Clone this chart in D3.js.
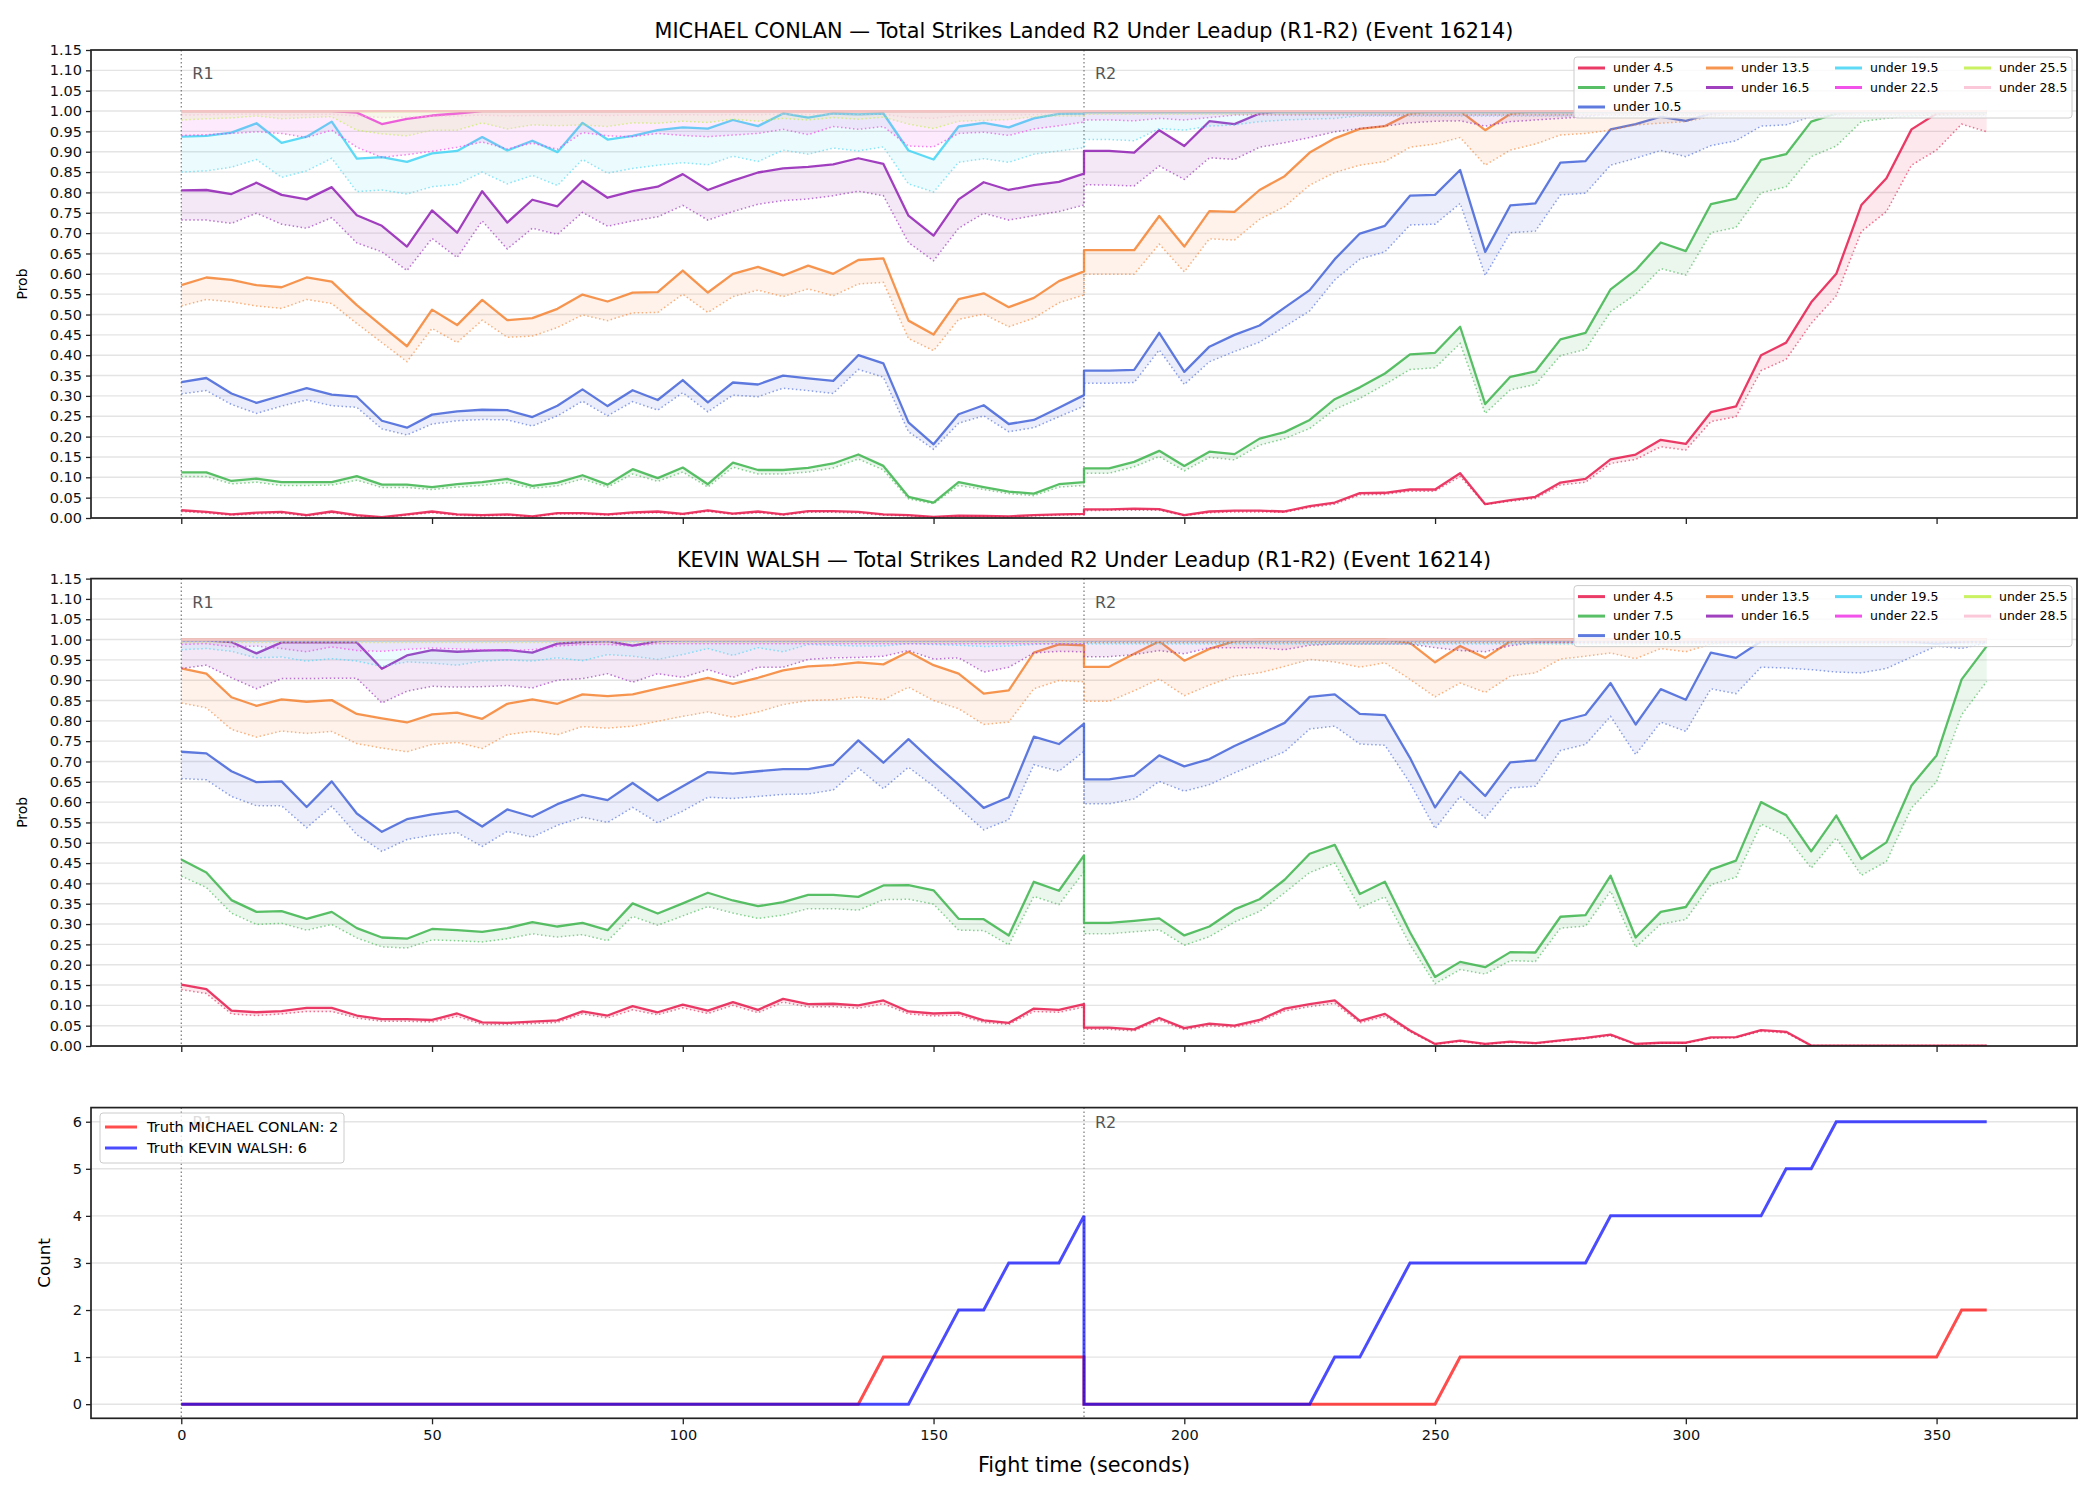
<!DOCTYPE html>
<html>
<head>
<meta charset="utf-8">
<script src="https://cdn.jsdelivr.net/npm/d3@7/dist/d3.min.js"></script>
<style>
    body { margin: 0; background: #fff; }
    svg { font-family: 'DejaVu Sans', sans-serif; }
</style>
</head>
<body>
<svg id="chart" width="2100" height="1500"></svg>
<script>
// Fight time of every sample: R1 then R2 (180 appears twice, once per round)
var fightTime = [0,5,10,15,20,25,30,35,40,45,50,55,60,65,70,75,80,85,90,95,100,105,110,115,120,125,130,135,140,145,150,155,160,165,170,175,180,
    180,185,190,195,200,205,210,215,220,225,230,235,240,245,250,255,260,265,270,275,280,285,290,295,300,305,310,315,320,325,330,335,340,345,350,355,360];

var lines = ['under 4.5', 'under 7.5', 'under 10.5', 'under 13.5', 'under 16.5', 'under 19.5', 'under 22.5', 'under 25.5', 'under 28.5'];
var lineColors = ['#e6194b', '#3cb44b', '#4363d8', '#f58231', '#911eb4', '#42d4f4', '#f032e6', '#bfef45', '#fabed4'];
var roundStarts = [0, 180];
var roundNames = ['R1', 'R2'];

// ---- MICHAEL CONLAN: solid (main) and dotted (alt) probabilities ----
var conlanMain45 = [.019,.015,.009,.013,.015,.007,.016,.007,.002,.009,.016,.009,.007,.009,.004,.012,.012,.009,.014,.016,.010,.019,.011,.016,.009,.017,.017,.015,.009,.007,.003,.006,.005,.004,.007,.009,.010,
    .021,.021,.023,.022,.007,.016,.018,.018,.016,.029,.038,.061,.062,.070,.070,.110,.034,.044,.052,.087,.096,.144,.156,.192,.182,.260,.274,.400,.431,.530,.600,.769,.835,.955,.994,.998,1];
var conlanAlt45 = [.016,.012,.007,.010,.012,.005,.013,.005,.001,.007,.013,.007,.005,.007,.003,.010,.010,.007,.011,.013,.008,.016,.009,.013,.007,.014,.014,.012,.007,.005,.002,.004,.004,.003,.005,.007,.008,
    .018,.019,.019,.019,.006,.013,.015,.015,.014,.026,.034,.057,.058,.066,.066,.102,.033,.041,.048,.081,.088,.134,.144,.175,.167,.237,.249,.362,.390,.478,.546,.704,.753,.867,.904,.968,.949];
var conlanMain75 = [.112,.112,.091,.097,.088,.088,.088,.103,.082,.082,.076,.083,.088,.096,.079,.087,.105,.082,.120,.098,.124,.083,.136,.118,.118,.123,.134,.156,.128,.052,.038,.088,.076,.065,.060,.083,.088,
    .122,.122,.138,.165,.128,.163,.157,.195,.211,.241,.292,.321,.355,.402,.406,.470,.280,.347,.360,.439,.455,.562,.609,.677,.656,.771,.785,.880,.894,.974,.994,1,1,1,1,1,1];
var conlanAlt75 = [.102,.102,.084,.088,.080,.080,.081,.093,.075,.075,.070,.076,.080,.087,.073,.079,.096,.076,.108,.090,.113,.076,.125,.108,.108,.113,.123,.145,.118,.047,.035,.080,.070,.060,.055,.076,.080,
    .110,.110,.126,.151,.116,.149,.143,.179,.195,.220,.267,.294,.328,.365,.369,.429,.257,.315,.328,.399,.414,.507,.550,.613,.597,.701,.714,.799,.814,.888,.914,.974,.982,.988,.990,.992,.992];
var conlanMain105 = [.334,.344,.306,.283,.301,.319,.303,.298,.239,.222,.254,.262,.266,.265,.248,.276,.316,.275,.314,.290,.339,.284,.333,.328,.350,.343,.337,.400,.380,.235,.181,.255,.277,.231,.241,.271,.302,
    .362,.362,.364,.455,.359,.421,.450,.473,.517,.560,.636,.699,.718,.792,.794,.855,.654,.768,.773,.873,.877,.955,.968,.986,.976,.994,1,1,1,1,1,1,1,1,1,1,1];
var conlanAlt105 = [.305,.313,.279,.257,.275,.290,.276,.272,.219,.204,.231,.239,.242,.241,.226,.251,.287,.251,.286,.265,.308,.261,.302,.298,.319,.313,.306,.365,.346,.212,.169,.233,.251,.212,.222,.249,.275,
    .331,.331,.333,.413,.328,.384,.409,.432,.470,.509,.585,.636,.654,.720,.722,.773,.596,.701,.705,.794,.798,.867,.884,.903,.888,.915,.927,.963,.966,.986,.992,.995,.995,.996,.996,.997,.997];
var conlanMain135 = [.572,.591,.585,.572,.567,.591,.581,.523,.472,.422,.512,.474,.536,.486,.491,.514,.549,.532,.554,.555,.608,.554,.600,.617,.596,.620,.600,.634,.638,.485,.451,.538,.552,.518,.541,.582,.606,
    .658,.658,.658,.742,.667,.754,.752,.806,.840,.898,.933,.956,.963,.994,1,1,.953,.993,1,1,1,1,1,1,1,1,1,1,1,1,1,1,1,1,1,1,1];
var conlanAlt135 = [.521,.537,.531,.521,.515,.537,.527,.478,.431,.384,.466,.431,.486,.444,.447,.468,.499,.485,.504,.505,.550,.505,.544,.560,.544,.563,.546,.575,.579,.441,.411,.488,.501,.470,.491,.529,.548,
    .599,.599,.599,.673,.605,.686,.683,.734,.765,.818,.849,.867,.876,.911,.919,.935,.867,.904,.919,.941,.945,.953,.966,.970,.974,.986,.995,.995,.995,.995,.995,.995,.995,.995,.995,.995,.995];
var conlanMain165 = [.805,.806,.796,.824,.794,.783,.813,.744,.718,.667,.756,.701,.803,.726,.782,.766,.828,.787,.803,.814,.845,.806,.829,.849,.859,.863,.869,.884,.870,.743,.694,.783,.825,.806,.818,.826,.846,
    .902,.902,.898,.953,.914,.975,.968,.994,1,1,1,1,1,1,1,1,1,1,1,1,1,1,1,1,1,1,1,1,1,1,1,1,1,1,1,1,1];
var conlanAlt165 = [.732,.732,.724,.749,.722,.712,.738,.676,.654,.608,.687,.640,.730,.661,.712,.697,.751,.717,.730,.740,.768,.732,.753,.771,.780,.784,.792,.803,.792,.677,.632,.712,.749,.732,.743,.753,.769,
    .819,.818,.816,.865,.832,.885,.881,.911,.922,.935,.949,.957,.963,.971,.975,.976,.963,.974,.978,.982,.986,.995,.995,.995,.995,.995,.995,.995,.995,.995,.995,.995,.995,.995,.995,.995,.995];
var conlanMain195 = [.937,.939,.947,.970,.922,.937,.974,.883,.887,.875,.896,.902,.936,.903,.927,.899,.971,.930,.939,.953,.960,.957,.978,.963,.994,.984,.994,.992,.994,.903,.881,.962,.971,.960,.982,.993,.994,
    .997,.997,.997,.997,.997,.997,.997,.997,.997,.997,.997,.997,.997,.997,.997,.997,.997,.997,.997,.997,.997,.997,.997,.997,.997,.997,.997,.997,.997,.997,.997,.997,.997,.997,.997,.997,.997];
var conlanAlt195 = [.850,.853,.862,.881,.837,.853,.884,.802,.806,.796,.814,.820,.850,.821,.842,.817,.881,.847,.859,.867,.873,.868,.889,.876,.904,.894,.909,.902,.912,.821,.801,.874,.883,.874,.894,.902,.910,
    .930,.930,.927,.957,.953,.963,.966,.974,.978,.980,.982,.988,.988,.988,.988,.988,.988,.988,.988,.988,.988,.988,.988,.988,.988,.988,.988,.988,.988,.988,.988,.988,.988,.988,.988,.988,.988];
var conlanMain225 = [1,1,1,1,1,1,1,.996,.968,.981,.989,.994,1,1,1,1,1,1,1,1,1,1,1,1,1,1,1,1,1,1,1,1,1,1,1,1,1,
    1,1,1,1,1,1,1,1,1,1,1,1,1,1,1,1,1,1,1,1,1,1,1,1,1,1,1,1,1,1,1,1,1,1,1,1,1];
var conlanAlt225 = [.940,.942,.945,.949,.945,.935,.953,.911,.886,.893,.901,.911,.924,.907,.921,.906,.947,.939,.937,.945,.940,.937,.941,.945,.955,.942,.962,.955,.962,.914,.912,.945,.948,.940,.956,.964,.973,
    .978,.978,.976,.982,.978,.984,.990,.990,.990,.990,.990,.990,.990,.990,.990,.990,.990,.990,.990,.990,.990,.990,.990,.990,.990,.990,.990,.990,.990,.990,.990,.990,.990,.990,.990,.990,.990];
var conlanMain255 = [1,1,1,1,1,1,1,1,1,1,1,1,1,1,1,1,1,1,1,1,1,1,1,1,1,1,1,1,1,1,1,1,1,1,1,1,1,
    1,1,1,1,1,1,1,1,1,1,1,1,1,1,1,1,1,1,1,1,1,1,1,1,1,1,1,1,1,1,1,1,1,1,1,1,1];
var conlanAlt255 = [.978,.981,.983,.988,.981,.984,.986,.953,.944,.939,.953,.953,.971,.956,.966,.964,.966,.962,.971,.970,.975,.972,.980,.975,.982,.978,.984,.980,.985,.968,.957,.975,.977,.979,.986,.988,.988,
    .992,.992,.992,.992,.992,.992,.992,.992,.992,.992,.992,.992,.992,.992,.992,.992,.992,.992,.992,.992,.992,.992,.992,.992,.992,.992,.992,.992,.992,.992,.992,.992,.992,.992,.992,.992,.992];
var conlanMain285 = [1,1,1,1,1,1,1,1,1,1,1,1,1,1,1,1,1,1,1,1,1,1,1,1,1,1,1,1,1,1,1,1,1,1,1,1,1,
    1,1,1,1,1,1,1,1,1,1,1,1,1,1,1,1,1,1,1,1,1,1,1,1,1,1,1,1,1,1,1,1,1,1,1,1,1];
var conlanAlt285 = [.990,.991,.992,.992,.990,.991,.992,.988,.984,.985,.987,.988,.990,.988,.989,.989,.990,.989,.990,.990,.991,.990,.991,.991,.992,.991,.992,.991,.992,.984,.982,.989,.990,.990,.991,.992,.992,
    .993,.993,.993,.993,.993,.993,.993,.993,.993,.993,.993,.993,.993,.993,.993,.993,.993,.993,.993,.993,.993,.993,.993,.993,.993,.993,.993,.993,.993,.993,.993,.993,.993,.993,.993,.993,.993];

// ---- KEVIN WALSH ----
var walshMain45 = [.151,.140,.087,.083,.086,.094,.094,.075,.066,.066,.064,.080,.058,.057,.060,.063,.085,.075,.098,.083,.102,.087,.108,.089,.116,.103,.104,.100,.112,.085,.080,.082,.063,.057,.092,.089,.103,
    .045,.045,.041,.069,.044,.055,.050,.064,.092,.103,.112,.062,.079,.038,.005,.013,.005,.011,.007,.014,.020,.028,.005,.008,.008,.021,.022,.039,.035,.001,.001,.001,.001,.001,.001,.001,.001];
var walshAlt45 = [.139,.129,.079,.075,.079,.085,.085,.069,.061,.061,.059,.073,.053,.053,.055,.058,.079,.069,.089,.077,.094,.080,.100,.082,.108,.096,.097,.093,.104,.079,.074,.076,.058,.053,.085,.083,.096,
    .041,.041,.037,.064,.040,.050,.046,.059,.086,.097,.105,.057,.073,.035,.004,.011,.004,.009,.006,.012,.018,.025,.004,.007,.007,.019,.020,.036,.032,.001,.001,.001,.001,.001,.001,.001,.001];
var walshMain75 = [.459,.427,.359,.330,.332,.313,.330,.290,.267,.264,.288,.285,.281,.290,.305,.294,.303,.285,.351,.326,.351,.377,.358,.344,.354,.372,.372,.367,.395,.396,.383,.313,.312,.272,.404,.382,.469,
    .303,.303,.308,.314,.272,.294,.336,.361,.409,.473,.495,.374,.404,.280,.170,.207,.194,.231,.230,.318,.322,.419,.267,.330,.342,.434,.456,.600,.568,.479,.567,.460,.501,.641,.715,.902,.984];
var walshAlt75 = [.418,.390,.327,.299,.302,.285,.299,.266,.244,.241,.261,.259,.256,.264,.276,.268,.274,.259,.319,.297,.320,.343,.327,.314,.322,.338,.338,.334,.360,.361,.349,.285,.284,.249,.368,.348,.428,
    .276,.276,.281,.286,.248,.269,.305,.331,.377,.427,.450,.340,.367,.249,.153,.188,.177,.210,.208,.290,.295,.381,.243,.300,.311,.397,.415,.546,.516,.438,.512,.420,.454,.586,.650,.815,.897];
var walshMain105 = [.724,.720,.676,.649,.651,.588,.651,.572,.527,.558,.570,.578,.540,.582,.564,.595,.618,.605,.647,.604,.639,.674,.670,.676,.681,.681,.692,.752,.697,.755,.698,.643,.586,.612,.761,.743,.793,
    .656,.656,.665,.715,.688,.706,.738,.766,.795,.859,.865,.817,.814,.709,.587,.675,.615,.698,.703,.799,.815,.893,.791,.878,.852,.968,.955,.996,1,1,1,1,1,.995,.990,.995,1];
var walshAlt105 = [.658,.655,.614,.591,.591,.537,.590,.520,.479,.508,.519,.525,.491,.528,.514,.543,.563,.550,.587,.549,.578,.612,.609,.614,.619,.620,.630,.684,.633,.686,.639,.586,.532,.557,.692,.676,.725,
    .596,.596,.608,.651,.627,.643,.672,.698,.724,.780,.787,.743,.740,.647,.535,.614,.561,.635,.639,.727,.742,.811,.717,.797,.774,.879,.867,.932,.930,.926,.920,.918,.929,.957,.984,.978,.992];
var walshMain135 = [.929,.916,.858,.837,.853,.847,.851,.817,.806,.796,.816,.820,.805,.842,.853,.842,.865,.861,.865,.879,.892,.906,.891,.906,.924,.934,.937,.944,.939,.970,.937,.916,.867,.875,.968,.988,.986,
    .933,.933,.965,.996,.948,.977,.996,1,1,1,1,1,1,.992,.944,.984,.955,.996,1,1,1,1,1,1,1,1,1,1,1,1,1,1,1,1,1,1,1];
var walshAlt135 = [.844,.832,.779,.760,.775,.769,.774,.744,.733,.724,.742,.747,.732,.766,.774,.766,.786,.782,.787,.799,.811,.822,.809,.822,.840,.850,.852,.859,.852,.883,.850,.830,.791,.797,.879,.899,.896,
    .848,.848,.874,.903,.862,.888,.910,.918,.934,.951,.945,.932,.943,.902,.859,.893,.870,.910,.918,.952,.959,.967,.953,.978,.970,.989,.995,.995,.995,.995,.995,.995,.995,.995,.995,.995,.995];
var walshMain165 = [.998,.998,.994,.966,.993,.993,.993,.993,.928,.961,.974,.970,.973,.974,.968,.990,.994,.996,.985,.996,.998,.998,.998,.998,.998,.998,.998,.998,.998,.998,.998,.998,.998,.998,.998,.998,.998,
    .998,.998,.998,.998,.998,.998,.998,.998,.998,.998,.998,.998,.998,.998,.998,.998,.998,.998,.998,.998,.998,.998,.998,.998,.998,.998,.998,.998,.998,.998,.998,.998,.998,.998,.998,.998,.998];
var walshAlt165 = [.929,.937,.906,.879,.904,.904,.905,.905,.844,.873,.885,.883,.884,.887,.881,.900,.904,.916,.895,.916,.907,.926,.907,.932,.932,.951,.955,.956,.959,.973,.952,.955,.920,.932,.967,.971,.970,
    .958,.958,.963,.973,.965,.980,.980,.980,.975,.986,.989,.989,.989,.989,.980,.973,.970,.985,.993,.993,.993,.993,.993,.993,.993,.993,.993,.993,.993,.993,.993,.993,.993,.993,.993,.993,.993];
var walshMain195 = [.998,.998,.998,.998,.998,.998,.998,.998,.998,.998,.998,.998,.998,.998,.998,.998,.998,.998,.998,.998,.998,.998,.998,.998,.998,.998,.998,.998,.998,.998,.998,.998,.998,.998,.998,.998,.998,
    .998,.998,.998,.998,.998,.998,.998,.998,.998,.998,.998,.998,.998,.998,.998,.998,.998,.998,.998,.998,.998,.998,.998,.998,.998,.998,.998,.998,.998,.998,.998,.998,.998,.998,.998,.998,.998];
var walshAlt195 = [.975,.978,.971,.955,.957,.947,.953,.947,.934,.945,.942,.937,.947,.950,.947,.955,.948,.963,.959,.951,.963,.978,.961,.980,.970,.988,.986,.984,.984,.990,.988,.986,.983,.984,.988,.990,.990,
    .989,.989,.989,.989,.989,.989,.989,.989,.989,.989,.989,.989,.989,.989,.989,.989,.989,.989,.989,.989,.989,.989,.989,.989,.989,.989,.989,.989,.989,.989,.989,.989,.989,.989,.989,.989,.989];
var walshMain225 = [1,1,1,1,1,1,1,1,1,1,1,1,1,1,1,1,1,1,1,1,1,1,1,1,1,1,1,1,1,1,1,1,1,1,1,1,1,
    1,1,1,1,1,1,1,1,1,1,1,1,1,1,1,1,1,1,1,1,1,1,1,1,1,1,1,1,1,1,1,1,1,1,1,1,1];
var walshAlt225 = [.988,.990,.982,.984,.978,.970,.982,.973,.971,.976,.979,.977,.975,.973,.975,.984,.988,.988,.984,.990,.990,.990,.990,.990,.990,.990,.990,.990,.990,.990,.990,.990,.990,.990,.990,.990,.990,
    .992,.992,.992,.992,.992,.992,.992,.992,.992,.992,.992,.992,.992,.992,.992,.992,.992,.992,.992,.992,.992,.992,.992,.992,.992,.992,.992,.992,.992,.992,.992,.992,.992,.992,.992,.992,.992];
var walshMain255 = [1,1,1,1,1,1,1,1,1,1,1,1,1,1,1,1,1,1,1,1,1,1,1,1,1,1,1,1,1,1,1,1,1,1,1,1,1,
    1,1,1,1,1,1,1,1,1,1,1,1,1,1,1,1,1,1,1,1,1,1,1,1,1,1,1,1,1,1,1,1,1,1,1,1,1];
var walshAlt255 = [.993,.993,.993,.993,.993,.993,.993,.993,.993,.993,.993,.993,.993,.993,.993,.993,.993,.993,.993,.993,.993,.993,.993,.993,.993,.993,.993,.993,.993,.993,.993,.993,.993,.993,.993,.993,.993,
    .993,.993,.993,.993,.993,.993,.993,.993,.993,.993,.993,.993,.993,.993,.993,.993,.993,.993,.993,.993,.993,.993,.993,.993,.993,.993,.993,.993,.993,.993,.993,.993,.993,.993,.993,.993,.993];
var walshMain285 = [1,1,1,1,1,1,1,1,1,1,1,1,1,1,1,1,1,1,1,1,1,1,1,1,1,1,1,1,1,1,1,1,1,1,1,1,1,
    1,1,1,1,1,1,1,1,1,1,1,1,1,1,1,1,1,1,1,1,1,1,1,1,1,1,1,1,1,1,1,1,1,1,1,1,1];
var walshAlt285 = [.995,.995,.995,.995,.995,.995,.995,.995,.995,.995,.995,.995,.995,.995,.995,.995,.995,.995,.995,.995,.995,.995,.995,.995,.995,.995,.995,.995,.995,.995,.995,.995,.995,.995,.995,.995,.995,
    .995,.995,.995,.995,.995,.995,.995,.995,.995,.995,.995,.995,.995,.995,.995,.995,.995,.995,.995,.995,.995,.995,.995,.995,.995,.995,.995,.995,.995,.995,.995,.995,.995,.995,.995,.995,.995];

// ---- Truth counts (strikes landed in R2 leadup) ----
var conlanCount = [0,0,0,0,0,0,0,0,0,0,0,0,0,0,0,0,0,0,0,0,0,0,0,0,0,0,0,0,1,1,1,1,1,1,1,1,1,
    0,0,0,0,0,0,0,0,0,0,0,0,0,0,0,1,1,1,1,1,1,1,1,1,1,1,1,1,1,1,1,1,1,1,1,2,2];
var walshCount = [0,0,0,0,0,0,0,0,0,0,0,0,0,0,0,0,0,0,0,0,0,0,0,0,0,0,0,0,0,0,1,2,2,3,3,3,4,
    0,0,0,0,0,0,0,0,0,0,1,1,2,3,3,3,3,3,3,3,3,4,4,4,4,4,4,4,5,5,6,6,6,6,6,6,6];

var conlanSeries = [[conlanMain45, conlanAlt45], [conlanMain75, conlanAlt75], [conlanMain105, conlanAlt105],
    [conlanMain135, conlanAlt135], [conlanMain165, conlanAlt165], [conlanMain195, conlanAlt195],
    [conlanMain225, conlanAlt225], [conlanMain255, conlanAlt255], [conlanMain285, conlanAlt285]];
var walshSeries = [[walshMain45, walshAlt45], [walshMain75, walshAlt75], [walshMain105, walshAlt105],
    [walshMain135, walshAlt135], [walshMain165, walshAlt165], [walshMain195, walshAlt195],
    [walshMain225, walshAlt225], [walshMain255, walshAlt255], [walshMain285, walshAlt285]];

var svg = d3.select('#chart');
var left = 91, right = 2077;

// Shared x scale for all three panels
var x = d3.scaleLinear().domain([-18, 378]).range([left, right]);
var xTicks = [0, 50, 100, 150, 200, 250, 300, 350];
var probTicks = d3.range(0, 23.5).map(function(i) { return i * 0.05; });

function roundMarkers(g, y, top, bottom, yText) {
    roundStarts.forEach(function(t, i) {
        g.append('line')
            .attr('x1', x(t)).attr('x2', x(t))
            .attr('y1', top).attr('y2', bottom)
            .style('stroke', '#777').style('stroke-width', 1.2)
            .style('stroke-dasharray', '1.5,2.5');
        g.append('text')
            .attr('x', x(t) + 11).attr('y', y(yText))
            .attr('dy', '0.35em')
            .style('font-size', '16px').style('fill', '#555')
            .text(roundNames[i]);
    });
}

function frame(g, top, bottom) {
    g.append('rect')
        .attr('x', left).attr('y', top)
        .attr('width', right - left).attr('height', bottom - top)
        .style('fill', 'none').style('stroke', '#222').style('stroke-width', 1.7);
}

function styleAxis(a) {
    a.select('.domain').remove();
    a.selectAll('line').style('stroke', '#222').style('stroke-width', 1.3);
    a.selectAll('text').style('font-size', '14.5px').style('fill', '#111')
        .style('font-family', "'DejaVu Sans', sans-serif");
}

function drawProbPanel(name, series, top, bottom, idx) {
    var g = svg.append('g');
    var y = d3.scaleLinear().domain([0, 1.15]).range([bottom, top]);

    // horizontal grid
    g.append('g').selectAll('line').data(probTicks).enter().append('line')
        .attr('x1', left).attr('x2', right)
        .attr('y1', function(d) { return y(d); }).attr('y2', function(d) { return y(d); })
        .style('stroke', '#e4e4e4').style('stroke-width', 1.4);

    g.append('clipPath').attr('id', 'clip' + idx)
        .append('rect').attr('x', left).attr('y', top)
        .attr('width', right - left).attr('height', bottom - top);
    var plot = g.append('g').attr('clip-path', 'url(#clip' + idx + ')');

    roundMarkers(plot, y, top, bottom, 1.15 * 0.95);

    series.forEach(function(s, i) {
        var main = s[0], alt = s[1];
        var area = d3.area()
            .x(function(d, j) { return x(fightTime[j]); })
            .y0(function(d, j) { return y(alt[j]); })
            .y1(function(d) { return y(d); });
        var line = d3.line()
            .x(function(d, j) { return x(fightTime[j]); })
            .y(function(d) { return y(d); });
        plot.append('path').datum(main).attr('d', area)
            .style('fill', lineColors[i]).style('fill-opacity', 0.1);
        plot.append('path').datum(alt).attr('d', line)
            .style('fill', 'none').style('stroke', lineColors[i])
            .style('stroke-opacity', 0.6).style('stroke-width', 1.5)
            .style('stroke-dasharray', '1.5,2.5');
        plot.append('path').datum(main).attr('d', line)
            .style('fill', 'none').style('stroke', lineColors[i])
            .style('stroke-opacity', 0.85).style('stroke-width', 2.3)
            .style('stroke-linejoin', 'round');
    });

    var ya = g.append('g').attr('transform', 'translate(' + left + ',0)')
        .call(d3.axisLeft(y).tickValues(probTicks).tickSize(5).tickPadding(4).tickFormat(d3.format('.2f')));
    styleAxis(ya);
    var xa = g.append('g').attr('transform', 'translate(0,' + bottom + ')')
        .call(d3.axisBottom(x).tickValues(xTicks).tickSize(6).tickFormat(''));
    styleAxis(xa);
    frame(g, top, bottom);

    g.append('text')
        .attr('transform', 'translate(27,' + (top + bottom) / 2 + ') rotate(-90)')
        .attr('text-anchor', 'middle')
        .style('font-size', '14px')
        .text('Prob');

    g.append('text')
        .attr('x', (left + right) / 2).attr('y', top - 12)
        .attr('text-anchor', 'middle')
        .style('font-size', '20.8px')
        .text(name + ' \u2014 Total Strikes Landed R2 Under Leadup (R1-R2) (Event 16214)');

    // legend, 4 columns filled column by column
    var lg = g.append('g');
    lg.append('rect')
        .attr('x', 1574).attr('y', top + 7).attr('width', 498).attr('height', 61)
        .attr('rx', 3)
        .style('fill', '#fff').style('fill-opacity', 0.8)
        .style('stroke', '#ccc').style('stroke-width', 1);
    var colX = [1578, 1706, 1835, 1964];
    var colOf = [0, 0, 0, 1, 1, 2, 2, 3, 3];
    var rowOf = [0, 1, 2, 0, 1, 0, 1, 0, 1];
    lines.forEach(function(label, i) {
        var ly = top + 18 + rowOf[i] * 19.5;
        lg.append('line')
            .attr('x1', colX[colOf[i]]).attr('x2', colX[colOf[i]] + 27)
            .attr('y1', ly).attr('y2', ly)
            .style('stroke', lineColors[i]).style('stroke-opacity', 0.85).style('stroke-width', 3);
        lg.append('text')
            .attr('x', colX[colOf[i]] + 35).attr('y', ly).attr('dy', '0.35em')
            .style('font-size', '12.5px')
            .text(label);
    });
}

drawProbPanel('MICHAEL CONLAN', conlanSeries, 50, 518, 1);
drawProbPanel('KEVIN WALSH', walshSeries, 578.6, 1046, 2);

// ---- Count panel ----
(function() {
    var top = 1107.6, bottom = 1418.3;
    var g = svg.append('g');
    var y = d3.scaleLinear().domain([-0.3, 6.3]).range([bottom, top]);
    var countTicks = [0, 1, 2, 3, 4, 5, 6];

    g.append('g').selectAll('line').data(countTicks).enter().append('line')
        .attr('x1', left).attr('x2', right)
        .attr('y1', function(d) { return y(d); }).attr('y2', function(d) { return y(d); })
        .style('stroke', '#e4e4e4').style('stroke-width', 1.4);

    roundMarkers(g, y, top, bottom, 6.3 * 0.95);

    var line = d3.line()
        .x(function(d, j) { return x(fightTime[j]); })
        .y(function(d) { return y(d); });
    g.append('path').datum(conlanCount).attr('d', line)
        .style('fill', 'none').style('stroke', '#ff0000').style('stroke-opacity', 0.7).style('stroke-width', 3);
    g.append('path').datum(walshCount).attr('d', line)
        .style('fill', 'none').style('stroke', '#0000ff').style('stroke-opacity', 0.7).style('stroke-width', 3);

    var ya = g.append('g').attr('transform', 'translate(' + left + ',0)')
        .call(d3.axisLeft(y).tickValues(countTicks).tickSize(5).tickPadding(4).tickFormat(d3.format('d')));
    styleAxis(ya);
    var xa = g.append('g').attr('transform', 'translate(0,' + bottom + ')')
        .call(d3.axisBottom(x).tickValues(xTicks).tickSize(6).tickPadding(5));
    styleAxis(xa);
    frame(g, top, bottom);

    g.append('text')
        .attr('transform', 'translate(50,' + (top + bottom) / 2 + ') rotate(-90)')
        .attr('text-anchor', 'middle')
        .style('font-size', '16.7px')
        .text('Count');
    g.append('text')
        .attr('x', (left + right) / 2).attr('y', 1472)
        .attr('text-anchor', 'middle')
        .style('font-size', '20.8px')
        .text('Fight time (seconds)');

    // truth legend (drawn over the R1 marker, as in the original)
    var lg = g.append('g');
    lg.append('rect')
        .attr('x', 100).attr('y', 1113).attr('width', 244).attr('height', 50).attr('rx', 3)
        .style('fill', '#fff').style('fill-opacity', 0.8)
        .style('stroke', '#ccc').style('stroke-width', 1);
    var truth = [['Truth MICHAEL CONLAN: ' + conlanCount[conlanCount.length - 1], '#ff0000'],
                 ['Truth KEVIN WALSH: ' + walshCount[walshCount.length - 1], '#0000ff']];
    truth.forEach(function(t, i) {
        var ly = 1127 + i * 21;
        lg.append('line').attr('x1', 105).attr('x2', 137).attr('y1', ly).attr('y2', ly)
            .style('stroke', t[1]).style('stroke-opacity', 0.7).style('stroke-width', 3);
        lg.append('text').attr('x', 147).attr('y', ly).attr('dy', '0.35em')
            .style('font-size', '14.5px').text(t[0]);
    });
})();
</script>
</body>
</html>
